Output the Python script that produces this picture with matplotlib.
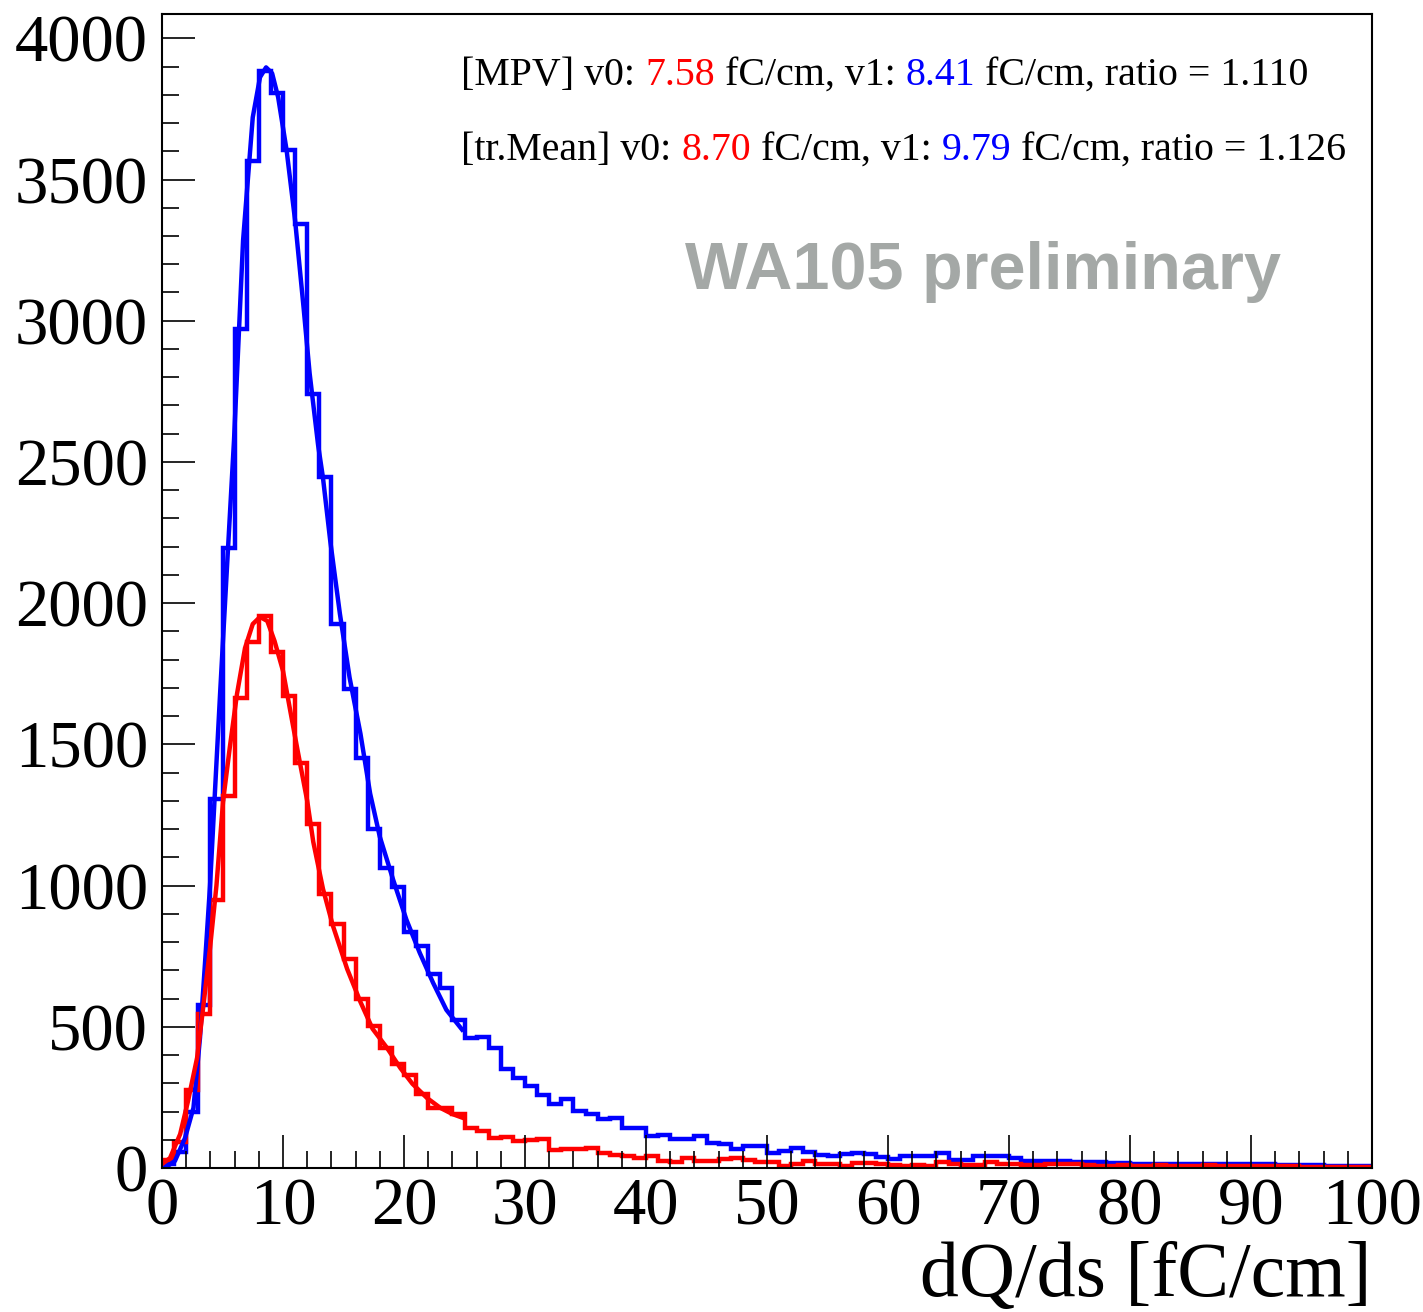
import numpy as np
import matplotlib
matplotlib.use("Agg")
import matplotlib.pyplot as plt
from matplotlib.ticker import MultipleLocator

# dQ/ds histograms, 1 fC/cm bins from 0 to 100
bin_edges = np.arange(0, 101, 1)

blue_counts = [
    15, 57, 198, 576, 1306, 2197, 2972, 3564, 3883, 3808,
    3606, 3344, 2742, 2448, 1927, 1697, 1453, 1201, 1063, 996,
    836, 787, 687, 638, 524, 459, 464, 425, 351, 319,
    290, 259, 227, 244, 202, 191, 174, 177, 142, 142,
    113, 117, 103, 103, 113, 89, 85, 67, 78, 78,
    53, 60, 71, 57, 46, 43, 50, 53, 50, 39,
    32, 42, 42, 42, 53, 28, 28, 42, 42, 42,
    35, 25, 25, 25, 25, 21, 21, 21, 18, 18,
    14, 14, 14, 14, 14, 14, 14, 14, 14, 14,
    14, 14, 12, 12, 12, 12, 7, 7, 7, 7,
]

red_counts = [
    30, 92, 276, 545, 948, 1318, 1663, 1862, 1954, 1827,
    1671, 1435, 1219, 971, 864, 740, 599, 503, 425, 368,
    330, 262, 212, 213, 191, 140, 132, 106, 110, 96,
    99, 103, 64, 67, 67, 71, 53, 46, 43, 35,
    43, 25, 21, 35, 25, 25, 32, 35, 28, 21,
    21, 7, 14, 25, 14, 14, 7, 18, 18, 14,
    10, 7, 10, 7, 21, 14, 10, 10, 21, 14,
    14, 10, 10, 14, 14, 14, 10, 7, 7, 10,
    7, 7, 10, 7, 7, 7, 10, 7, 7, 7,
    7, 7, 7, 7, 5, 5, 5, 5, 5, 3,
]

# fitted curves
blue_fit_x = [0.0, 0.4, 1.07, 1.9, 2.6, 3.14, 3.55, 3.97, 4.8, 5.4, 5.95, 6.7, 7.5,
              8.1, 8.6, 9.1, 9.6, 10.3, 11.0, 11.7, 12.2, 12.9, 13.3, 13.9, 14.7,
              15.5, 16.4, 17.2, 18.0, 19.1, 20.2, 21.3, 22.4, 23.5, 24.8]
blue_fit_y = [0, 5, 25, 106, 213, 461, 723, 1000, 1679, 2150, 2576, 3284, 3720,
              3862, 3897, 3876, 3791, 3603, 3355, 3047, 2814, 2560, 2445, 2222, 1963,
              1737, 1538, 1326, 1173, 1021, 879, 762, 656, 560, 490]

red_fit_x = [0.0, 0.66, 1.5, 2.15, 2.9, 3.4, 3.97, 4.5, 5.05, 5.6, 6.2, 6.86, 7.5,
             8.1, 8.7, 9.3, 10.0, 10.6, 11.2, 12.0, 12.5, 13.3, 14.1, 15.3, 16.4,
             17.4, 18.6, 19.7, 20.7, 21.9, 23.0, 24.0, 24.9]
red_fit_y = [14, 35, 120, 237, 390, 567, 779, 1000, 1300, 1488, 1679, 1841, 1926,
             1951, 1937, 1866, 1760, 1619, 1480, 1300, 1155, 989, 861, 705, 588,
             493, 425, 354, 298, 248, 213, 191, 177]

text_mpv = [("[MPV] v0:", "black"), ("7.58", "#ff0000"), ("fC/cm, v1:", "black"),
            ("8.41", "#0000ff"), ("fC/cm, ratio = 1.110", "black")]
text_mean = [("[tr.Mean] v0:", "black"), ("8.70", "#ff0000"), ("fC/cm, v1:", "black"),
             ("9.79", "#0000ff"), ("fC/cm, ratio = 1.126", "black")]

SERIF = ["Liberation Serif", "DejaVu Serif"]
W, H = 1423, 1312

plt.rcParams["font.family"] = SERIF
fig = plt.figure(figsize=(W / 100, H / 100), dpi=100)
ax = fig.add_axes([162 / W, 1 - 1168 / H, (1372 - 162) / W, (1168 - 14) / H])

ax.stairs(blue_counts, bin_edges, color="#0000ff", lw=3.2)
ax.plot(blue_fit_x, blue_fit_y, color="#0000ff", lw=3.2)
ax.stairs(red_counts, bin_edges, color="#ff0000", lw=3.2)
ax.plot(red_fit_x, red_fit_y, color="#ff0000", lw=3.2)

ax.set_xlim(0, 100)
ax.set_ylim(0, 4086)
ax.xaxis.set_major_locator(MultipleLocator(10))
ax.xaxis.set_minor_locator(MultipleLocator(2))
ax.yaxis.set_major_locator(MultipleLocator(500))
ax.yaxis.set_minor_locator(MultipleLocator(100))
ax.tick_params(which="both", direction="in", top=False, right=False, width=1.2)
ax.tick_params(which="major", length=24, labelsize=48)
ax.tick_params(which="minor", length=12)
ax.tick_params(axis="y", pad=10)
ax.tick_params(axis="x", pad=7)
for s in ax.spines.values():
    s.set_linewidth(1.5)

fig.text(1372 / W, 1 - 1296 / H, "dQ/ds [fC/cm]", ha="right", va="baseline", fontsize=56)

fig.text(685 / W, 1 - 289 / H, "WA105 preliminary", fontsize=48, weight="bold",
         family="Liberation Sans", color="#a4a8a6", va="baseline")

fig.canvas.draw()
r = fig.canvas.get_renderer()


def width_of(s, size):
    t = fig.text(0, 0, s, fontsize=size)
    w = t.get_window_extent(renderer=r).width
    t.remove()
    return w


def colored_line(px, py, parts, size):
    sp = width_of("a a", size) - width_of("aa", size)
    x = px
    for s, c in parts:
        t = fig.text(x / W, 1 - py / H, s, color=c, fontsize=size, va="baseline")
        x += t.get_window_extent(renderer=r).width + sp


colored_line(461, 85, text_mpv, 28.7)
colored_line(461, 160, text_mean, 28.7)

fig.savefig("out.png", dpi=100)
